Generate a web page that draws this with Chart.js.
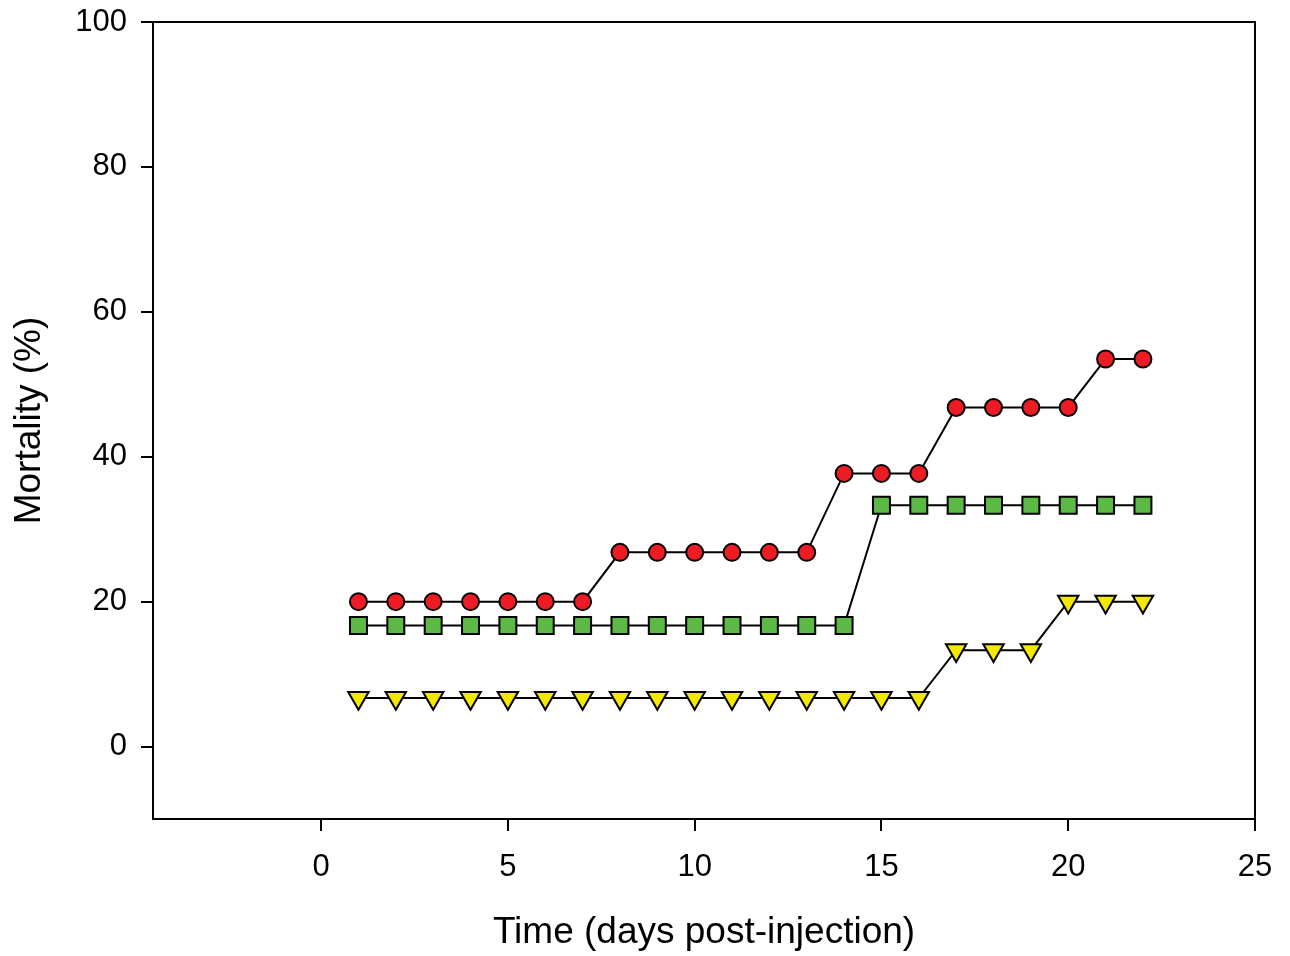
<!DOCTYPE html>
<html>
<head>
<meta charset="utf-8">
<script src="https://cdn.jsdelivr.net/npm/chart.js@4/dist/chart.umd.min.js"></script>
<style>
    body { margin: 0; background: #ffffff; }
    #wrap { width: 1290px; height: 956px; }
</style>
</head>
<body>
<div id="wrap"><canvas id="mortalityChart" width="1290" height="956"></canvas></div>
<script>
// Days post-injection
let days = [1,2,3,4,5,6,7,8,9,10,11,12,13,14,15,16,17,18,19,20,21,22];

// Cumulative mortality (%) per group
let redGroup = [20,20,20,20,20,20,20,26.8,26.8,26.8,26.8,26.8,26.8,37.7,37.7,37.7,46.8,46.8,46.8,46.8,53.5,53.5];
let greenGroup = [16.7,16.7,16.7,16.7,16.7,16.7,16.7,16.7,16.7,16.7,16.7,16.7,16.7,16.7,33.3,33.3,33.3,33.3,33.3,33.3,33.3,33.3];
let yellowGroup = [6.7,6.7,6.7,6.7,6.7,6.7,6.7,6.7,6.7,6.7,6.7,6.7,6.7,6.7,6.7,6.7,13.3,13.3,13.3,20,20,20];

// Axis ticks
let xTicks = [0,5,10,15,20,25];
let yTicks = [0,20,40,60,80,100];

function toPoints(values) {
    let pts = [];
    for (let i=0; i<days.length; i++) {
        pts.push({x: days[i], y: values[i]});
    }
    return pts;
}

// Draw a closed frame round the plot area
const frame = {
    id: 'frame',
    afterDraw(chart) {
        const a = chart.chartArea;
        const ctx = chart.ctx;
        ctx.save();
        ctx.strokeStyle = '#000';
        ctx.lineWidth = 2;
        ctx.strokeRect(a.left, a.top, a.right - a.left, a.bottom - a.top);
        ctx.restore();
    }
};

const fontName = "'Liberation Sans', Arial, sans-serif";

new Chart(document.getElementById("mortalityChart"), {
    type: 'line',
    data: {
        datasets: [
            {
                data: toPoints(redGroup),
                borderColor: '#000',
                borderWidth: 2,
                pointStyle: 'circle',
                pointRadius: 8.5,
                pointBackgroundColor: '#ED1C24',
                pointBorderColor: '#000',
                pointBorderWidth: 2
            },
            {
                data: toPoints(greenGroup),
                borderColor: '#000',
                borderWidth: 2,
                pointStyle: 'rect',
                pointRadius: 12,
                pointBackgroundColor: '#5DB946',
                pointBorderColor: '#000',
                pointBorderWidth: 2
            },
            {
                data: toPoints(yellowGroup),
                borderColor: '#000',
                borderWidth: 2,
                pointStyle: 'triangle',
                pointRotation: 180,
                pointRadius: 11.8,
                pointBackgroundColor: '#F2E800',
                pointBorderColor: '#000',
                pointBorderWidth: 2
            }
        ]
    },
    options: {
        responsive: false,
        animation: false,
        layout: { padding: { left: 0, top: 22, right: 35, bottom: 0 } },
        plugins: {
            legend: { display: false },
            tooltip: { enabled: false }
        },
        elements: { line: { tension: 0 } },
        scales: {
            x: {
                type: 'linear',
                min: -4.5,
                max: 25,
                afterBuildTicks: function (scale) {
                    scale.ticks = xTicks.map(v => ({value: v}));
                },
                afterFit: function (scale) {
                    scale.height = 137;
                    scale.paddingLeft = 0;
                    scale.paddingRight = 0;
                },
                grid: { drawOnChartArea: false, drawTicks: true, tickLength: 12, color: '#000', lineWidth: 2 },
                border: { display: true, color: '#000', width: 2 },
                ticks: { color: '#000', padding: 18, font: { family: fontName, size: 31 } },
                title: { display: true, text: 'Time (days post-injection)', color: '#000', padding: { top: 0, bottom: 1 }, font: { family: fontName, size: 37 } }
            },
            y: {
                type: 'linear',
                min: -10,
                max: 100,
                afterBuildTicks: function (scale) {
                    scale.ticks = yTicks.map(v => ({value: v}));
                },
                afterFit: function (scale) {
                    scale.width = 153;
                    scale.paddingTop = 0;
                    scale.paddingBottom = 0;
                },
                grid: { drawOnChartArea: false, drawTicks: true, tickLength: 12, color: '#000', lineWidth: 2 },
                border: { display: true, color: '#000', width: 2 },
                ticks: { color: '#000', padding: 14, font: { family: fontName, size: 31 } },
                title: { display: true, text: 'Mortality (%)', color: '#000', padding: { top: 8, bottom: 0 }, font: { family: fontName, size: 37 } }
            }
        }
    },
    plugins: [frame]
});
</script>
</body>
</html>
